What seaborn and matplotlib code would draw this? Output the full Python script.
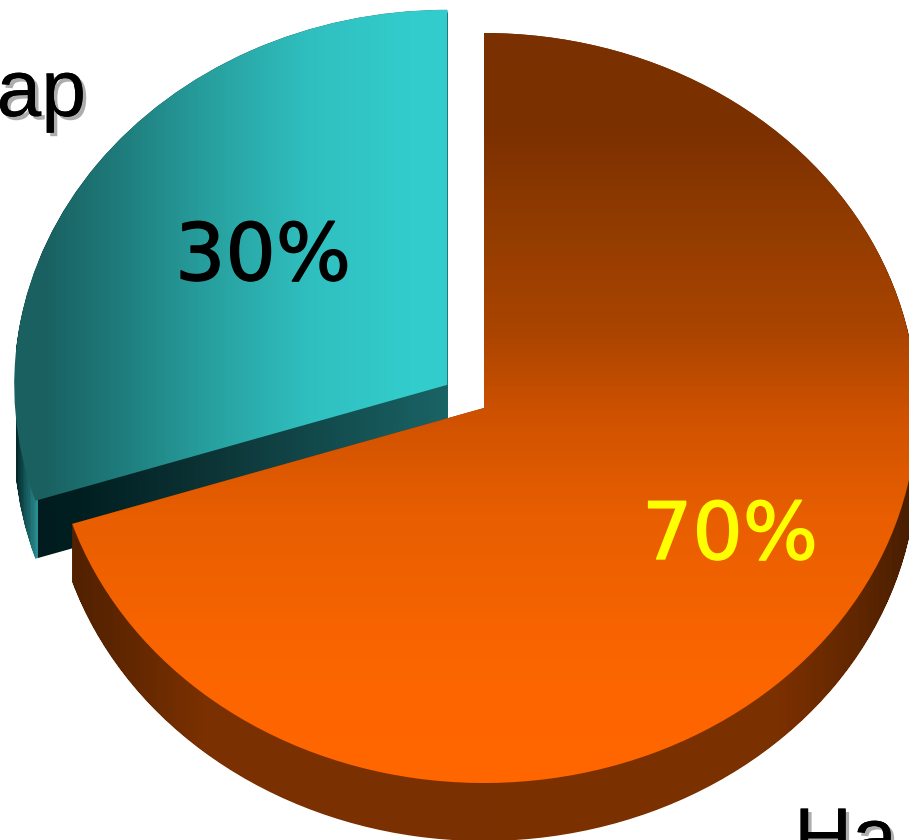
import numpy as np
import matplotlib
matplotlib.use('Agg')
import matplotlib.pyplot as plt
import matplotlib.patheffects as pe
from matplotlib.colors import LinearSegmentedColormap
from matplotlib.path import Path
import seaborn as sns

labels = ['ap', 'Ha']
shares = [30, 70]
pct_labels = ['30%', '70%']
explode = [0.105, 0]

W, H = 909, 840
CX, CY = 484, 408   # pie centre in pixels
RX, RY = 433, 375   # pixels per data unit
DEPTH = 58 / RY

sns.set_theme(style='white')
plt.rcParams['font.family'] = ['Liberation Sans', 'DejaVu Sans']


def px(x):
    return (x - CX) / RX


def py(y):
    return (CY - y) / RY


def ramp_cmap(name, start, end, stops):
    # stops are (pixel, colour) pairs read along the gradient direction
    return LinearSegmentedColormap.from_list(
        name, [((p - start) / (end - start), c) for p, c in stops])


def gradient(ax, clip, cmap, x0, x1, y0, y1, vertical, zorder, data_clip=False):
    ramp = np.linspace(0, 1, 1024)
    img = ramp[:, None] if vertical else ramp[None, :]
    im = ax.imshow(img, cmap=cmap, vmin=0, vmax=1, aspect='auto', origin='upper',
                   extent=(px(x0), px(x1), py(y1), py(y0)), zorder=zorder,
                   interpolation='nearest')
    if data_clip:
        im.set_clip_path(clip, ax.transData)
    else:
        im.set_clip_path(clip)


def side_path(wedge):
    # sweep the wedge outline downwards to get the extruded body
    base = wedge.get_path().transformed(wedge.get_patch_transform())
    parts = []
    for d in np.linspace(0, DEPTH, 60):
        parts.append(Path(base.vertices - [0, d], base.codes))
    return Path.make_compound_path(*parts)


fig = plt.figure(figsize=(W / 100, H / 100), dpi=100)
ax = fig.add_axes([0, 0, 1, 1])
wedges, _ = ax.pie(shares, explode=explode, startangle=90, counterclock=True,
                   radius=1, colors=['none', 'none'],
                   wedgeprops={'linewidth': 0})
ax.set_aspect('auto')

teal_top = ramp_cmap('teal_top', 0, 460, [
    (0, '#1a6060'), (43, '#1a6060'), (110, '#1e7878'), (210, '#27a09f'),
    (310, '#30bfbf'), (410, '#33cccc'), (460, '#33cccc')])
orange_top = ramp_cmap('orange_top', 0, H, [
    (0, '#7a3000'), (130, '#7c3000'), (230, '#933c00'), (330, '#aa4400'),
    (418, '#d05200'), (515, '#e85e00'), (661, '#fb6500'), (740, '#ff6600'), (H, '#ff6600')])
orange_side = ramp_cmap('orange_side', 60, W, [
    (60, '#4f2000'), (110, '#5c2500'), (200, '#7a3000'), (780, '#7c3000'),
    (860, '#602700'), (W, '#4a1e00')])
teal_side = ramp_cmap('teal_side', 16, 449, [
    (16, '#062a2c'), (36.5, '#2a8f92'), (37.5, '#001c1e'), (75, '#001e20'),
    (200, '#0c3234'), (449, '#1a6466')])

# extruded bodies first, top faces over them
gradient(ax, side_path(wedges[0]), teal_side, 16, 449, 0, H, False, 1, data_clip=True)
gradient(ax, wedges[0], teal_top, 0, 460, 0, H, False, 2)
gradient(ax, side_path(wedges[1]), orange_side, 60, W, 0, H, False, 3, data_clip=True)
gradient(ax, wedges[1], orange_top, 0, W, 0, H, True, 4)

ax.set_xlim(px(0), px(W))
ax.set_ylim(py(H), py(0))
ax.axis('off')

shadow = [pe.withSimplePatchShadow(offset=(2.5, -2.5), shadow_rgbFace='#999999', alpha=0.8),
          pe.Normal()]
fig.text(86 / W, 1 - 116 / H, labels[0], fontsize=58, color='black', ha='right',
         va='baseline', path_effects=shadow)
fig.text(794 / W, 1 - 864 / H, labels[1], fontsize=58, color='black', ha='left',
         va='baseline', path_effects=shadow)
fig.text(263 / W, 1 - 280 / H, pct_labels[0], fontsize=57, color='black', ha='center',
         va='baseline', family='DejaVu Sans',
         path_effects=[pe.withStroke(linewidth=1, foreground='black')])
fig.text(730 / W, 1 - 559 / H, pct_labels[1], fontsize=57, color='#ffff00', ha='center',
         va='baseline', family='DejaVu Sans',
         path_effects=[pe.withStroke(linewidth=1, foreground='#ffff00')])

fig.savefig('out.png', dpi=100)
